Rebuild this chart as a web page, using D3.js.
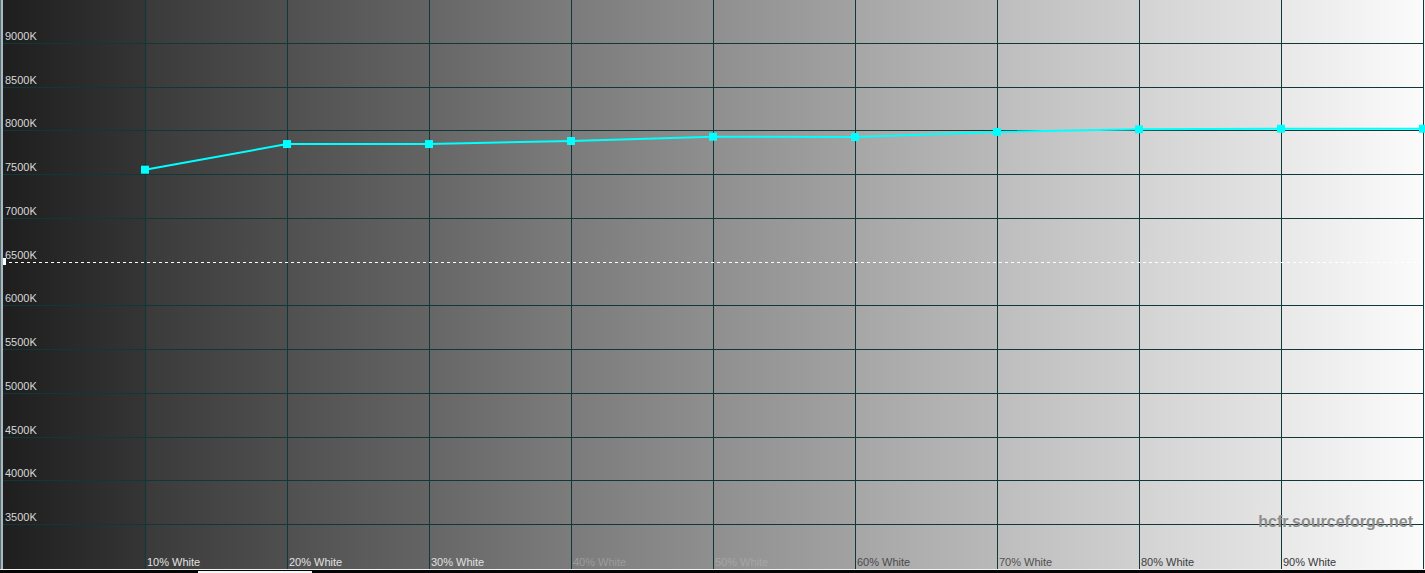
<!DOCTYPE html>
<html>
<head>
<meta charset="utf-8">
<script src="https://cdn.jsdelivr.net/npm/d3@7"></script>
<style>
  html, body { margin: 0; padding: 0; background: #000; overflow: hidden; }
  svg { display: block; }
  text { font-family: Arial, "Liberation Sans", sans-serif; }
</style>
</head>
<body>
<svg id="chart" width="1425" height="573"></svg>
<script>
// ---- data ----
const categories = ["10% White", "20% White", "30% White", "40% White", "50% White",
                    "60% White", "70% White", "80% White", "90% White", "100% White"];
const levels = [10, 20, 30, 40, 50, 60, 70, 80, 90, 100];
const colorTemp = [7550, 7843, 7843, 7878, 7927, 7923, 7981, 8011, 8018, 8018];
const yTicks = [3500, 4000, 4500, 5000, 5500, 6000, 6500, 7000, 7500, 8000, 8500, 9000];
const referenceTemp = 6500;
const xLabels = categories.slice(0, 9);

// ---- styles ----
const columnShades = [
  ["#1e1e1e", "#353535"], ["#3a3a3a", "#4f4f4f"], ["#505050", "#646464"],
  ["#666666", "#7c7c7c"], ["#7b7b7b", "#8f8f8f"], ["#8f8f8f", "#a2a2a2"],
  ["#a6a6a6", "#b9b9b9"], ["#bdbdbd", "#d0d0d0"], ["#d3d3d3", "#e4e4e4"],
  ["#e8e8e8", "#fbfbfb"]
];
const labelColors = ["#e2e2e2", "#e2e2e2", "#e0e0e0", "#9c9c9c", "#a6a6a6",
                     "#4a4a4a", "#505050", "#404040", "#383838"];
const gridColor = "#103838";

const W = 1425, H = 573;
const svg = d3.select("#chart");

const x = d3.scaleLinear().domain([0, 100]).range([3, 1423]);
const y = d3.scaleLinear().domain([3000, 9500]).range([568, -1]);

// background columns with gradients
const defs = svg.append("defs");
const colEdges = d3.range(0, 100, 10);
colEdges.forEach((c, i) => {
  const g = defs.append("linearGradient").attr("id", "col" + i)
    .attr("x1", "0%").attr("x2", "100%").attr("y1", "0%").attr("y2", "0%");
  g.append("stop").attr("offset", "0%").attr("stop-color", columnShades[i][0]);
  g.append("stop").attr("offset", "100%").attr("stop-color", columnShades[i][1]);
});
svg.append("g").selectAll("rect").data(colEdges).join("rect")
  .attr("x", d => x(d))
  .attr("y", 0)
  .attr("width", d => x(d + 10) - x(d))
  .attr("height", 569)
  .attr("fill", (d, i) => `url(#col${i})`);

// left/right edges
svg.append("rect").attr("x", 0).attr("y", 0).attr("width", 1).attr("height", 569).attr("fill", "#5f6e74");
svg.append("rect").attr("x", 1).attr("y", 0).attr("width", 2).attr("height", 569).attr("fill", "#a9b9c0");
svg.append("rect").attr("x", 1424).attr("y", 0).attr("width", 1).attr("height", 569).attr("fill", "#f2f2f2");

// bottom strip
svg.append("rect").attr("x", 0).attr("y", 569).attr("width", W).attr("height", 1).attr("fill", "#f4f4f4");
svg.append("rect").attr("x", 0).attr("y", 570).attr("width", W).attr("height", 3).attr("fill", "#050505");
svg.append("rect").attr("x", 198).attr("y", 571).attr("width", 114).attr("height", 2).attr("fill", "#f4f4f4");

// horizontal grid (except reference)
const grid = svg.append("g");
grid.selectAll("line.h").data(yTicks.filter(t => t !== referenceTemp)).join("line")
  .attr("class", "h")
  .attr("x1", x(0)).attr("x2", x(100))
  .attr("y1", d => Math.round(y(d)) + 0.5).attr("y2", d => Math.round(y(d)) + 0.5)
  .attr("stroke", gridColor).attr("stroke-width", 1);

// vertical grid
grid.selectAll("line.v").data(levels).join("line")
  .attr("class", "v")
  .attr("x1", d => Math.round(x(d)) + 0.5).attr("x2", d => Math.round(x(d)) + 0.5)
  .attr("y1", 0).attr("y2", 569)
  .attr("stroke", gridColor).attr("stroke-width", 1);

// reference dashed line
svg.append("line")
  .attr("x1", x(0)).attr("x2", x(100))
  .attr("y1", Math.round(y(referenceTemp)) + 0.5).attr("y2", Math.round(y(referenceTemp)) + 0.5)
  .attr("stroke", "#ffffff").attr("stroke-width", 1).attr("stroke-dasharray", "3,3");
svg.append("rect").attr("x", x(0)).attr("y", Math.round(y(referenceTemp)) - 4)
  .attr("width", 3).attr("height", 7).attr("fill", "#ffffff");

// y axis labels
svg.append("g").selectAll("text").data(yTicks).join("text")
  .attr("x", 5)
  .attr("y", d => Math.round(y(d)) - 3)
  .attr("font-size", 11)
  .attr("fill", "#d8d8d8")
  .text(d => d + "K");

// x axis labels
svg.append("g").selectAll("text").data(xLabels).join("text")
  .attr("x", (d, i) => x(levels[i]) + 2)
  .attr("y", 566)
  .attr("font-size", 11)
  .attr("fill", (d, i) => labelColors[i])
  .text(d => d);

// watermark
svg.append("text")
  .attr("x", 1413).attr("y", 527)
  .attr("text-anchor", "end")
  .attr("font-size", 16).attr("font-weight", "bold")
  .attr("fill", "#8e8e8e")
  .text("hcfr.sourceforge.net");

// data line
const line = d3.line().x((d, i) => x(levels[i])).y(d => y(d));
svg.append("path")
  .datum(colorTemp)
  .attr("d", line)
  .attr("fill", "none")
  .attr("stroke", "#00ffff")
  .attr("stroke-width", 2);

svg.append("g").selectAll("rect").data(colorTemp).join("rect")
  .attr("x", (d, i) => x(levels[i]) - 4)
  .attr("y", d => y(d) - 4)
  .attr("width", 8).attr("height", 8)
  .attr("fill", "#00ffff");
</script>
</body>
</html>
